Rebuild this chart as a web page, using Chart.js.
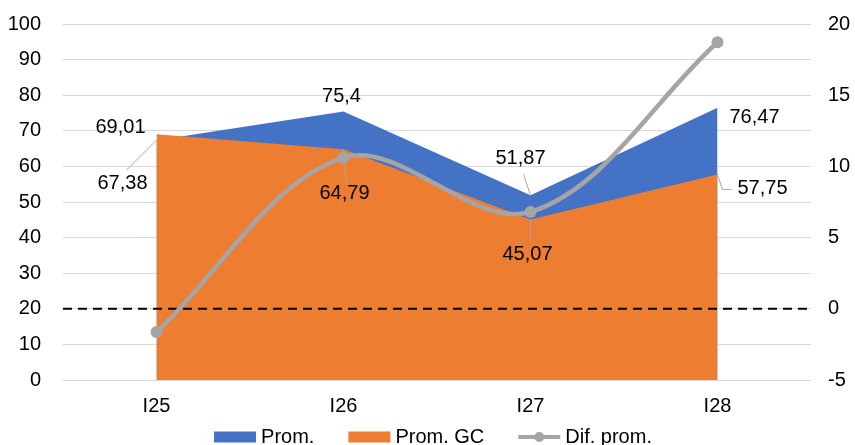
<!DOCTYPE html>
<html>
<head>
<meta charset="utf-8">
<script src="https://cdn.jsdelivr.net/npm/chart.js@4/dist/chart.umd.min.js"></script>
<style>
    html, body { margin: 0; padding: 0; background: #fff; }
    #wrap { width: 855px; height: 445px; }
</style>
</head>
<body>
<div id="wrap"><canvas id="chart"></canvas></div>
<script>
"use strict";

// Data
var categories = ["I25", "I26", "I27", "I28"];
var promValues = [67.38, 75.4, 51.87, 76.47];
var promGcValues = [69.01, 64.79, 45.07, 57.75];
var difValues = [-1.63, 10.61, 6.80, 18.72];
var seriesNames = ["Prom.", "Prom. GC", "Dif. prom."];

var colors = {
    blue: "#4472C4",
    orange: "#ED7D31",
    gray: "#A5A5A5",
    grid: "#D9D9D9",
    text: "#000000"
};

var FONT = "'Liberation Sans', Arial, Helvetica, sans-serif";
Chart.defaults.font.family = FONT;
Chart.defaults.font.size = 20;
Chart.defaults.color = colors.text;

// where each value label sits relative to its point (px), plus optional leader line
var labelSpots = [
    [
        { dx: -34, dy: 43, leader: [[0, 0], [-30, 30]] },
        { dx: -2, dy: -15 },
        { dx: -10, dy: -37, leader: [[0, 0], [-7, -21]] },
        { dx: 37, dy: 10 }
    ],
    [
        { dx: -36, dy: -7 },
        { dx: 1, dy: 44, leader: [[0, 0], [3, 33]] },
        { dx: -3, dy: 35, leader: [[0, 0], [0, 21]] },
        { dx: 45, dy: 14, leader: [[0, 0], [5, 15], [14, 15]] }
    ]
];

function fmt(v) {
    return String(v).replace(".", ",");
}

// y axes: fixed width, no extra room above the top tick
function fixWidth(w) {
    return function (s) {
        s.width = w;
        s.paddingTop = 0;
        s.paddingBottom = 0;
    };
}

// dashed zero line of the right axis, drawn after the orange area
var zeroLine = {
    id: "zeroLine",
    afterDatasetDraw: function (chart, args) {
        if (args.index !== 1) {
            return;
        }
        var ctx = chart.ctx,
            area = chart.chartArea,
            y = chart.scales.y1.getPixelForValue(0);
        ctx.save();
        ctx.strokeStyle = "#000";
        ctx.lineWidth = 2;
        ctx.setLineDash([9, 6]);
        ctx.beginPath();
        ctx.moveTo(area.left, y);
        ctx.lineTo(area.right - 3, y);
        ctx.stroke();
        ctx.restore();
    }
};

var valueLabels = {
    id: "valueLabels",
    afterDatasetsDraw: function (chart) {
        var ctx = chart.ctx;
        ctx.save();
        ctx.font = "20px " + FONT;
        ctx.textAlign = "center";
        ctx.textBaseline = "middle";
        labelSpots.forEach(function (spots, di) {
            var meta = chart.getDatasetMeta(di);
            meta.data.forEach(function (pt, i) {
                var s = spots[i];
                if (s.leader) {
                    ctx.strokeStyle = "#A6A6A6";
                    ctx.lineWidth = 1;
                    ctx.beginPath();
                    s.leader.forEach(function (p, k) {
                        if (k === 0) {
                            ctx.moveTo(pt.x + p[0], pt.y + p[1]);
                        } else {
                            ctx.lineTo(pt.x + p[0], pt.y + p[1]);
                        }
                    });
                    ctx.stroke();
                }
                ctx.fillStyle = colors.text;
                ctx.fillText(fmt(chart.data.datasets[di].data[i]), pt.x + s.dx, pt.y + s.dy);
            });
        });
        ctx.restore();
    }
};

// legend under the axis, Excel style
var bottomLegend = {
    id: "bottomLegend",
    afterDraw: function (chart) {
        var ctx = chart.ctx,
            symW = 42,
            gap = 5,
            itemGap = 34,
            y = 437,
            total = 0,
            x;
        ctx.save();
        ctx.font = "20px " + FONT;
        ctx.textBaseline = "middle";
        ctx.textAlign = "left";
        var items = chart.data.datasets.map(function (ds) {
            return { ds: ds, w: ctx.measureText(ds.label).width };
        });
        items.forEach(function (it, i) {
            total += symW + gap + it.w + (i ? itemGap : 0);
        });
        x = (chart.chartArea.left + chart.chartArea.right) / 2 - total / 2 - 4;
        items.forEach(function (it) {
            if (it.ds.type === "line" && !it.ds.fill) {
                ctx.strokeStyle = it.ds.borderColor;
                ctx.lineWidth = 4;
                ctx.beginPath();
                ctx.moveTo(x, y);
                ctx.lineTo(x + symW, y);
                ctx.stroke();
                ctx.fillStyle = it.ds.borderColor;
                ctx.beginPath();
                ctx.arc(x + symW / 2, y, 5, 0, Math.PI * 2);
                ctx.fill();
            } else {
                ctx.fillStyle = it.ds.backgroundColor;
                ctx.fillRect(x, y - 5.5, symW, 11);
            }
            ctx.fillStyle = colors.text;
            ctx.fillText(it.ds.label, x + symW + gap, y);
            x += symW + gap + it.w + itemGap;
        });
        ctx.restore();
    }
};

var ctx = document.getElementById("chart").getContext("2d");
window.chart = new Chart(ctx, {
    type: "line",
    data: {
        labels: categories,
        datasets: [
            {
                type: "line",
                label: seriesNames[0],
                data: promValues,
                yAxisID: "y",
                backgroundColor: colors.blue,
                borderWidth: 0,
                fill: "origin",
                pointRadius: 0,
                pointHoverRadius: 0,
                tension: 0,
                order: 3
            },
            {
                type: "line",
                label: seriesNames[1],
                data: promGcValues,
                yAxisID: "y",
                backgroundColor: colors.orange,
                borderWidth: 0,
                fill: "origin",
                pointRadius: 0,
                pointHoverRadius: 0,
                tension: 0,
                order: 2
            },
            {
                type: "line",
                label: seriesNames[2],
                data: difValues,
                yAxisID: "y1",
                borderColor: colors.gray,
                backgroundColor: colors.gray,
                borderWidth: 4.5,
                fill: false,
                pointRadius: 6,
                pointBackgroundColor: colors.gray,
                pointBorderWidth: 0,
                tension: 0.35,
                order: 1
            }
        ]
    },
    options: {
        responsive: true,
        maintainAspectRatio: false,
        animation: false,
        layout: {
            padding: { top: 24, bottom: 0, left: 0, right: 0 }
        },
        plugins: {
            legend: { display: false },
            tooltip: { enabled: false }
        },
        scales: {
            x: {
                offset: true,
                grid: { display: false },
                border: { display: false },
                ticks: { padding: 6, color: colors.text },
                afterFit: function (s) { s.height = 65; }
            },
            y: {
                position: "left",
                min: 0,
                max: 100,
                ticks: { stepSize: 10, padding: 22, color: colors.text },
                grid: { color: colors.grid, lineWidth: 1, drawTicks: false },
                border: { display: false },
                afterFit: fixWidth(63)
            },
            y1: {
                position: "right",
                min: -5,
                max: 20,
                ticks: { stepSize: 5, padding: 17, color: colors.text },
                grid: { drawOnChartArea: false, drawTicks: false },
                border: { display: false },
                afterFit: fixWidth(44)
            }
        }
    },
    plugins: [zeroLine, valueLabels, bottomLegend]
});
</script>
</body>
</html>
